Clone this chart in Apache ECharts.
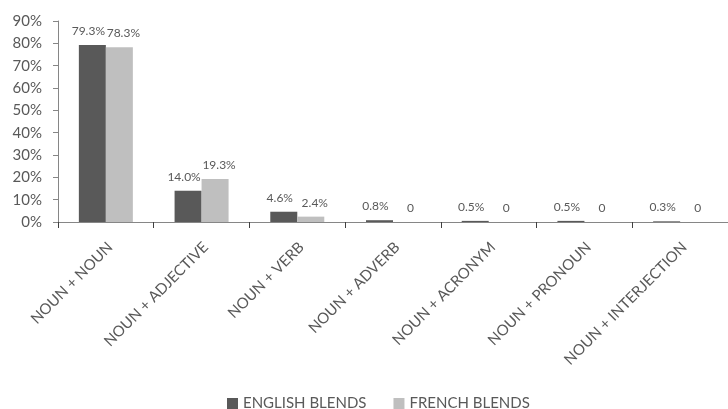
<!DOCTYPE html>
<html>
<head>
<meta charset="utf-8">
<script src="https://cdn.jsdelivr.net/npm/echarts@6/dist/echarts.min.js"></script>
<style>
  html, body { margin: 0; padding: 0; background: #fff; }
  #view { width: 728px; height: 409px; }
</style>
</head>
<body>
<div id="view"></div>
<script>
var categories = ['NOUN + NOUN', 'NOUN + ADJECTIVE', 'NOUN + VERB', 'NOUN + ADVERB', 'NOUN + ACRONYM', 'NOUN + PRONOUN', 'NOUN + INTERJECTION']
var englishBlends = [79.3, 14.0, 4.6, 0.8, 0.5, 0.5, 0.3]
var frenchBlends = [78.3, 19.3, 2.4, 0, 0, 0, 0]
var seriesNames = ['ENGLISH BLENDS', 'FRENCH BLENDS']
var yTicks = { min: 0, max: 90, step: 10 }

var textColor = '#595959'
var font = 'Lato'

function labelText (p) {
    return p.value === 0 ? '0' : p.value.toFixed(1) + '%'
}

var mychart = echarts.init(document.getElementById('view'))
var options = {
    animation: false,
    textStyle: { fontFamily: font, color: textColor },
    grid: { left: 58, right: -4, top: 21, bottom: 187, containLabel: false },
    legend: {
        data: seriesNames,
        top: 391,
        left: 222,
        itemWidth: 11,
        itemHeight: 11,
        itemGap: 27,
        icon: 'rect',
        textStyle: { fontFamily: font, fontSize: 15, color: textColor }
    },
    xAxis: {
        type: 'category',
        data: categories,
        axisLine: { lineStyle: { color: '#868686', width: 1 } },
        axisTick: { show: true, length: 6, alignWithLabel: false, lineStyle: { color: '#404040' } },
        // negative right padding pushes the rotated text a bit further along its slope
        axisLabel: { interval: 0, rotate: 45, margin: 27, padding: [0, -6, 0, 0], fontSize: 15, color: textColor, fontFamily: font }
    },
    yAxis: {
        type: 'value',
        min: yTicks.min,
        max: yTicks.max,
        interval: yTicks.step,
        splitLine: { show: false },
        axisLine: { show: true, lineStyle: { color: '#868686', width: 1 } },
        axisTick: { show: true, length: 5, lineStyle: { color: '#868686' } },
        axisLabel: { formatter: '{value}%', margin: 16, fontSize: 15, color: textColor, fontFamily: font }
    },
    series: [{
        name: seriesNames[0],
        type: 'bar',
        data: englishBlends,
        barWidth: 27,
        barGap: '0%',
        itemStyle: { color: '#595959' },
        label: { show: true, position: 'top', distance: 8, offset: [-4, 0], formatter: labelText, fontSize: 12, color: textColor, fontFamily: font }
    }, {
        name: seriesNames[1],
        type: 'bar',
        data: frenchBlends,
        barWidth: 27,
        barGap: '0%',
        itemStyle: { color: '#bfbfbf' },
        label: { show: true, position: 'top', distance: 8, offset: [4, 0], formatter: labelText, fontSize: 12, color: textColor, fontFamily: font }
    }]
}
mychart.setOption(options)
</script>
</body>
</html>
